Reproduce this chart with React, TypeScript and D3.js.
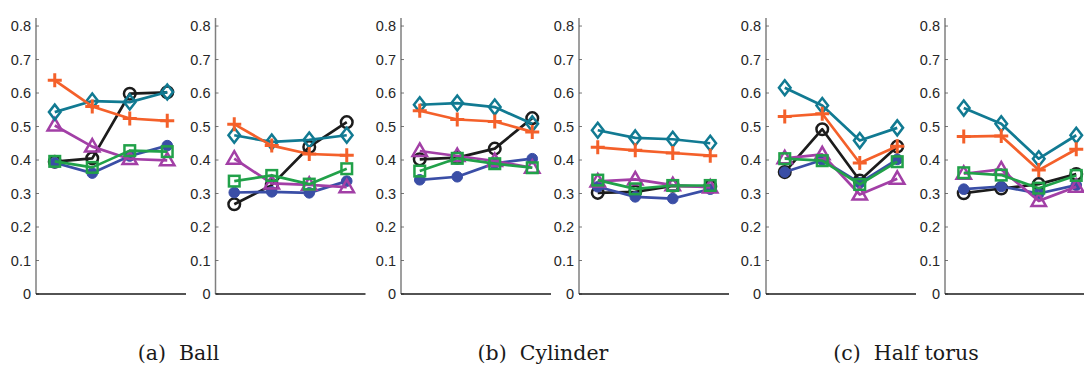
import React from "react";
import * as d3 from "d3";

// ---- data ----
const panelNames = ["Ball-L", "Ball-R", "Cyl-L", "Cyl-R", "Torus-L", "Torus-R"];
const xCats = [1, 2, 3, 4];
const yTicks = [0, 0.1, 0.2, 0.3, 0.4, 0.5, 0.6, 0.7, 0.8];
const captions = ["(a)  Ball", "(b)  Cylinder", "(c)  Half torus"];

const blackSeries = [
  [0.395, 0.405, 0.598, 0.602],
  [0.268, 0.325, 0.439, 0.513],
  [0.402, 0.407, 0.434, 0.525],
  [0.302, 0.305, 0.323, 0.321],
  [0.364, 0.492, 0.339, 0.440],
  [0.301, 0.315, 0.328, 0.358],
];
const blueSeries = [
  [0.392, 0.361, 0.412, 0.443],
  [0.303, 0.305, 0.302, 0.337],
  [0.341, 0.350, 0.390, 0.404],
  [0.320, 0.290, 0.285, 0.313],
  [0.364, 0.400, 0.332, 0.402],
  [0.313, 0.321, 0.300, 0.325],
];
const magentaSeries = [
  [0.503, 0.440, 0.403, 0.399],
  [0.404, 0.330, 0.326, 0.319],
  [0.427, 0.412, 0.397, 0.377],
  [0.336, 0.342, 0.325, 0.318],
  [0.405, 0.417, 0.297, 0.344],
  [0.359, 0.372, 0.278, 0.320],
];
const greenSeries = [
  [0.396, 0.378, 0.428, 0.425],
  [0.337, 0.354, 0.328, 0.374],
  [0.367, 0.405, 0.389, 0.377],
  [0.340, 0.314, 0.324, 0.324],
  [0.404, 0.398, 0.327, 0.395],
  [0.362, 0.355, 0.316, 0.354],
];
const tealSeries = [
  [0.543, 0.576, 0.573, 0.603],
  [0.474, 0.454, 0.460, 0.474],
  [0.565, 0.570, 0.558, 0.508],
  [0.489, 0.466, 0.462, 0.450],
  [0.616, 0.563, 0.458, 0.496],
  [0.555, 0.508, 0.404, 0.474],
];
const orangeSeries = [
  [0.638, 0.560, 0.524, 0.517],
  [0.507, 0.443, 0.418, 0.414],
  [0.547, 0.521, 0.515, 0.484],
  [0.438, 0.429, 0.421, 0.413],
  [0.530, 0.538, 0.391, 0.441],
  [0.470, 0.472, 0.370, 0.432],
];

type Marker = "circle" | "dot" | "tri" | "square" | "diamond" | "plus";
const seriesDefs: { name: string; data: number[][]; color: string; marker: Marker }[] = [
  { name: "black", data: blackSeries, color: "#1c1c1c", marker: "circle" },
  { name: "blue", data: blueSeries, color: "#3a4ea6", marker: "dot" },
  { name: "magenta", data: magentaSeries, color: "#a23fa6", marker: "tri" },
  { name: "green", data: greenSeries, color: "#21a149", marker: "square" },
  { name: "teal", data: tealSeries, color: "#117a92", marker: "diamond" },
  { name: "orange", data: orangeSeries, color: "#f4602a", marker: "plus" },
];

// ---- layout ----
const W = 1084;
const H = 369;
const panelLeft = [36, 215.5, 401, 579, 766, 945];
const panelW = 150;
const yBottom = 294;
const yTop = 18;
const captionX = [178.5, 543, 906];
const captionY = 360;

const y = d3.scaleLinear().domain([0, 0.824]).range([yBottom, yTop]);

function MarkerShape({ m, cx, cy, color }: { m: Marker; cx: number; cy: number; color: string }) {
  const sw = 2.5;
  switch (m) {
    case "circle":
      return <circle cx={cx} cy={cy} r={5.8} fill="none" stroke={color} strokeWidth={sw} />;
    case "dot":
      return <circle cx={cx} cy={cy} r={5.3} fill={color} stroke={color} strokeWidth={1} />;
    case "tri":
      return (
        <path
          d={`M${cx},${cy - 7.5}L${cx + 7.2},${cy + 5}L${cx - 7.2},${cy + 5}Z`}
          fill="none"
          stroke={color}
          strokeWidth={sw}
          strokeLinejoin="miter"
        />
      );
    case "square":
      return <rect x={cx - 5.3} y={cy - 5.3} width={10.6} height={10.6} fill="none" stroke={color} strokeWidth={sw} />;
    case "diamond":
      return (
        <path
          d={`M${cx},${cy - 7.5}L${cx + 5.8},${cy}L${cx},${cy + 7.5}L${cx - 5.8},${cy}Z`}
          fill="none"
          stroke={color}
          strokeWidth={sw}
        />
      );
    case "plus":
      return (
        <path
          d={`M${cx - 7},${cy}L${cx + 7},${cy}M${cx},${cy - 7}L${cx},${cy + 7}`}
          fill="none"
          stroke={color}
          strokeWidth={3}
        />
      );
  }
}

function Panel({ idx }: { idx: number }) {
  const left = panelLeft[idx];
  const x = d3.scaleLinear().domain([0.5, 4.5]).range([left, left + panelW]);
  const line = d3
    .line<number>()
    .x((_, i) => x(xCats[i]))
    .y((v) => y(v));
  return (
    <g>
      <line x1={left} x2={left} y1={yTop} y2={yBottom} stroke="#7f7f7f" strokeWidth={1.5} />
      {yTicks.map((t) => (
        <g key={t}>
          <line x1={left} x2={left + 3} y1={y(t)} y2={y(t)} stroke="#555" strokeWidth={0.8} />
          <text
            x={left - 5}
            y={y(t)}
            textAnchor="end"
            dominantBaseline="central"
            fontFamily="'Liberation Sans', Arial, sans-serif"
            fontSize={14.5}
            fill="#262626"
          >
            {t === 0 ? "0" : t.toFixed(1)}
          </text>
        </g>
      ))}
      <line x1={left} x2={left + panelW} y1={yBottom} y2={yBottom} stroke="#1a1a1a" strokeWidth={1.3} />
      {seriesDefs.map((s) => (
        <g key={s.name}>
          <path d={line(s.data[idx]) || ""} fill="none" stroke={s.color} strokeWidth={2.7} strokeLinejoin="round" />
          {s.data[idx].map((v, i) => (
            <MarkerShape key={i} m={s.marker} cx={x(xCats[i])} cy={y(v)} color={s.color} />
          ))}
        </g>
      ))}
    </g>
  );
}

export default function App() {
  return (
    <svg
      width={W}
      height={H}
      style={{ position: "absolute", left: 0, top: 0, background: "#fff" }}
    >
      <rect width={W} height={H} fill="#fff" />
      {panelNames.map((_, i) => (
        <Panel key={i} idx={i} />
      ))}
      {captions.map((c, i) => (
        <text
          key={c}
          x={captionX[i]}
          y={captionY}
          textAnchor="middle"
          fontFamily="'DejaVu Serif', 'Liberation Serif', serif"
          fontSize={20.5}
          fill="#1a1a1a"
          style={{ whiteSpace: "pre" }}
        >
          {c}
        </text>
      ))}
    </svg>
  );
}
